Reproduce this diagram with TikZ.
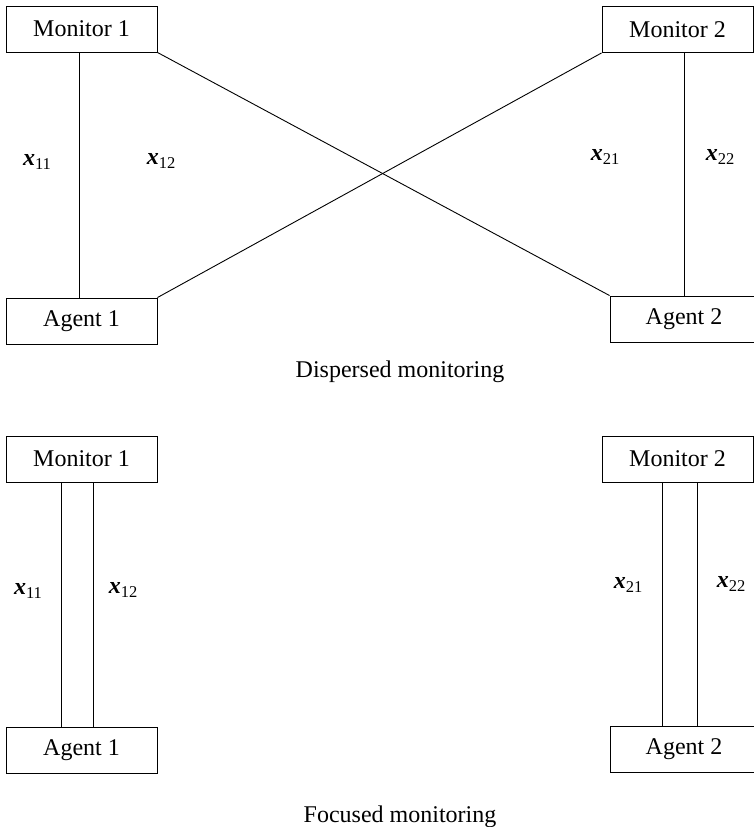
\documentclass[tikz,border=0pt]{standalone}
\usepackage{fontspec}
\setmainfont{Liberation Serif}
\begin{document}
\begin{tikzpicture}[x=1pt,y=-1pt,
  box/.style={draw, line width=0.9pt, rectangle, minimum width=151pt, minimum height=46pt, inner sep=0pt, font=\fontsize{24}{28}\selectfont},
  conn/.style={line width=0.9pt},
  lbl/.style={font=\fontsize{24}{28}\selectfont, inner sep=0pt},
  captext/.style={font=\fontsize{24}{28}\selectfont, inner sep=0pt}]
\useasboundingbox (0,0) rectangle (754,827);
\newcommand{\xv}[1]{{\bfseries\itshape x}\raisebox{-4.5pt}{\fontsize{16.5}{18}\selectfont #1}}
% ---- Dispersed monitoring ----
\node[box] (m1) at (81.5,29) {Monitor 1};
\node[box] (m2) at (677.5,29.5) {Monitor 2};
\node[box] (a1) at (81.5,321) {Agent 1};
\node[box, minimum width=148pt] (a2) at (684,319) {Agent 2};
\coordinate (v1) at (79,0);
\draw[conn] (m1.south -| v1) -- (a1.north -| v1);
\draw[conn] (m1.south east) -- (a2.north west);
\draw[conn] (m2.south west) -- (a1.north east);
\draw[conn] (a2.north) -- (a2.north |- m2.south);
\node[lbl] (l11) at (37,162) {\xv{11}};
\node[lbl] (l12) at (161,161) {\xv{12}};
\node[lbl] (l21) at (605,157) {\xv{21}};
\node[lbl] (l22) at (720,157) {\xv{22}};
\node[captext] (c1) at (400,372) {Dispersed monitoring};
% ---- Focused monitoring ----
\node[box] (fm1) at (81.5,459) {Monitor 1};
\node[box] (fm2) at (677.5,459) {Monitor 2};
\node[box] (fa1) at (81.5,750.5) {Agent 1};
\node[box, minimum width=148pt] (fa2) at (684,749) {Agent 2};
\coordinate (w1) at (61,0);
\coordinate (w2) at (93,0);
\coordinate (w3) at (662,0);
\coordinate (w4) at (697,0);
\draw[conn] (fm1.south -| w1) -- (fa1.north -| w1);
\draw[conn] (fm1.south -| w2) -- (fa1.north -| w2);
\draw[conn] (fm2.south -| w3) -- (fa2.north -| w3);
\draw[conn] (fm2.south -| w4) -- (fa2.north -| w4);
\node[lbl] (f11) at (28,591) {\xv{11}};
\node[lbl] (f12) at (123,590) {\xv{12}};
\node[lbl] (f21) at (628,585) {\xv{21}};
\node[lbl] (f22) at (731,584) {\xv{22}};
\node[captext] (c2) at (400,817) {Focused monitoring};
\end{tikzpicture}
\end{document}
